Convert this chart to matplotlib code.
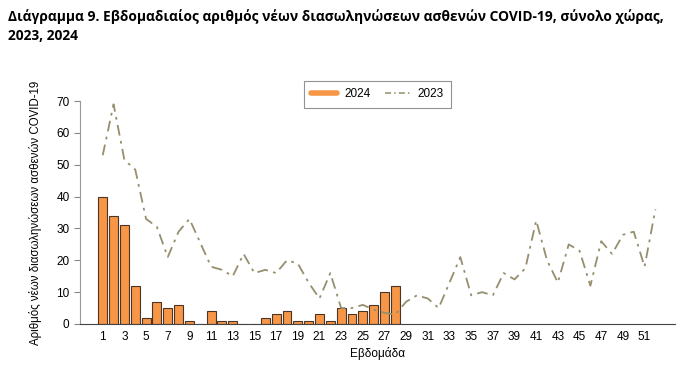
import matplotlib.pyplot as plt
from matplotlib.lines import Line2D

plt.rcParams['font.family'] = ['Liberation Sans', 'DejaVu Sans']

# Εβδομάδες
weeks_2024 = list(range(1, 29))
weeks_2023 = list(range(1, 53))

# Νέες διασωληνώσεις ανά εβδομάδα
cases_2024 = [40, 34, 31, 12, 2, 7, 5, 6, 1, 0, 4, 1, 1, 0, 0, 2, 3, 4, 1, 1,
              3, 1, 5, 3, 4, 6, 10, 12]
cases_2023 = [53, 69, 51.5, 48.5, 33, 30.5, 21, 29, 33, 25.5, 18, 17, 15, 22, 16, 17,
              16, 20, 19, 13, 8, 16, 5, 5, 6, 4.5, 3.5, 3, 7, 9, 8, 5, 13, 21, 9, 10,
              9, 16, 14, 17.5, 32.5, 20, 13, 25, 23, 12, 26, 22, 28, 29, 18, 36]

xticks = list(range(1, 52, 2))

fig = plt.figure(figsize=(6.87, 3.69), dpi=100)
ax = fig.add_axes([0.1164, 0.122, 0.866, 0.604])

ax.bar(weeks_2024, cases_2024, width=0.82, color='#F79646', edgecolor='#4a3526',
       linewidth=0.8, label='2024', zorder=2)
ax.plot(weeks_2023, cases_2023, color='#958f6e', linewidth=1.3,
        dashes=(6, 3, 1.5, 3), label='2023', zorder=3)

ax.set_xlim(-1.1, 53.8)
ax.set_ylim(0, 70)
ax.set_yticks(range(0, 71, 10))
ax.set_xticks(xticks)
ax.tick_params(axis='x', length=0, labelsize=8.5, pad=5)
ax.tick_params(axis='y', length=4, color='#888888', labelsize=8.5)

for s in ['top', 'right']:
    ax.spines[s].set_visible(False)
ax.spines['left'].set_color('#999999')
ax.spines['bottom'].set_color('#444444')

ax.set_xlabel('Εβδομάδα', fontsize=8.5, labelpad=3)
ax.set_ylabel('Αριθμός νέων διασωληνώσεων ασθενών COVID-19', fontsize=8.3, labelpad=10)

handles = [Line2D([0], [0], color='#F79646', linewidth=4, solid_capstyle='round'),
           Line2D([0], [0], color='#958f6e', linewidth=1.1, dashes=(4, 2, 1, 2))]
leg = ax.legend(handles, ['2024', '2023'], loc='upper center',
                bbox_to_anchor=(0.5, 1.115), ncol=2, frameon=True, fancybox=False,
                edgecolor='#777777', fontsize=8.5, handlelength=2.2, columnspacing=1.2,
                handletextpad=0.6, borderpad=0.6)
leg.get_frame().set_linewidth(0.8)

fig.text(0.012, 0.975, 'Διάγραμμα 9. Εβδομαδιαίος αριθμός νέων διασωληνώσεων ασθενών COVID-19, σύνολο χώρας,\n2023, 2024',
         fontsize=9.9, fontweight='bold', family='Open Sans', va='top', linespacing=1.45)

fig.savefig('out.png', dpi=100)
